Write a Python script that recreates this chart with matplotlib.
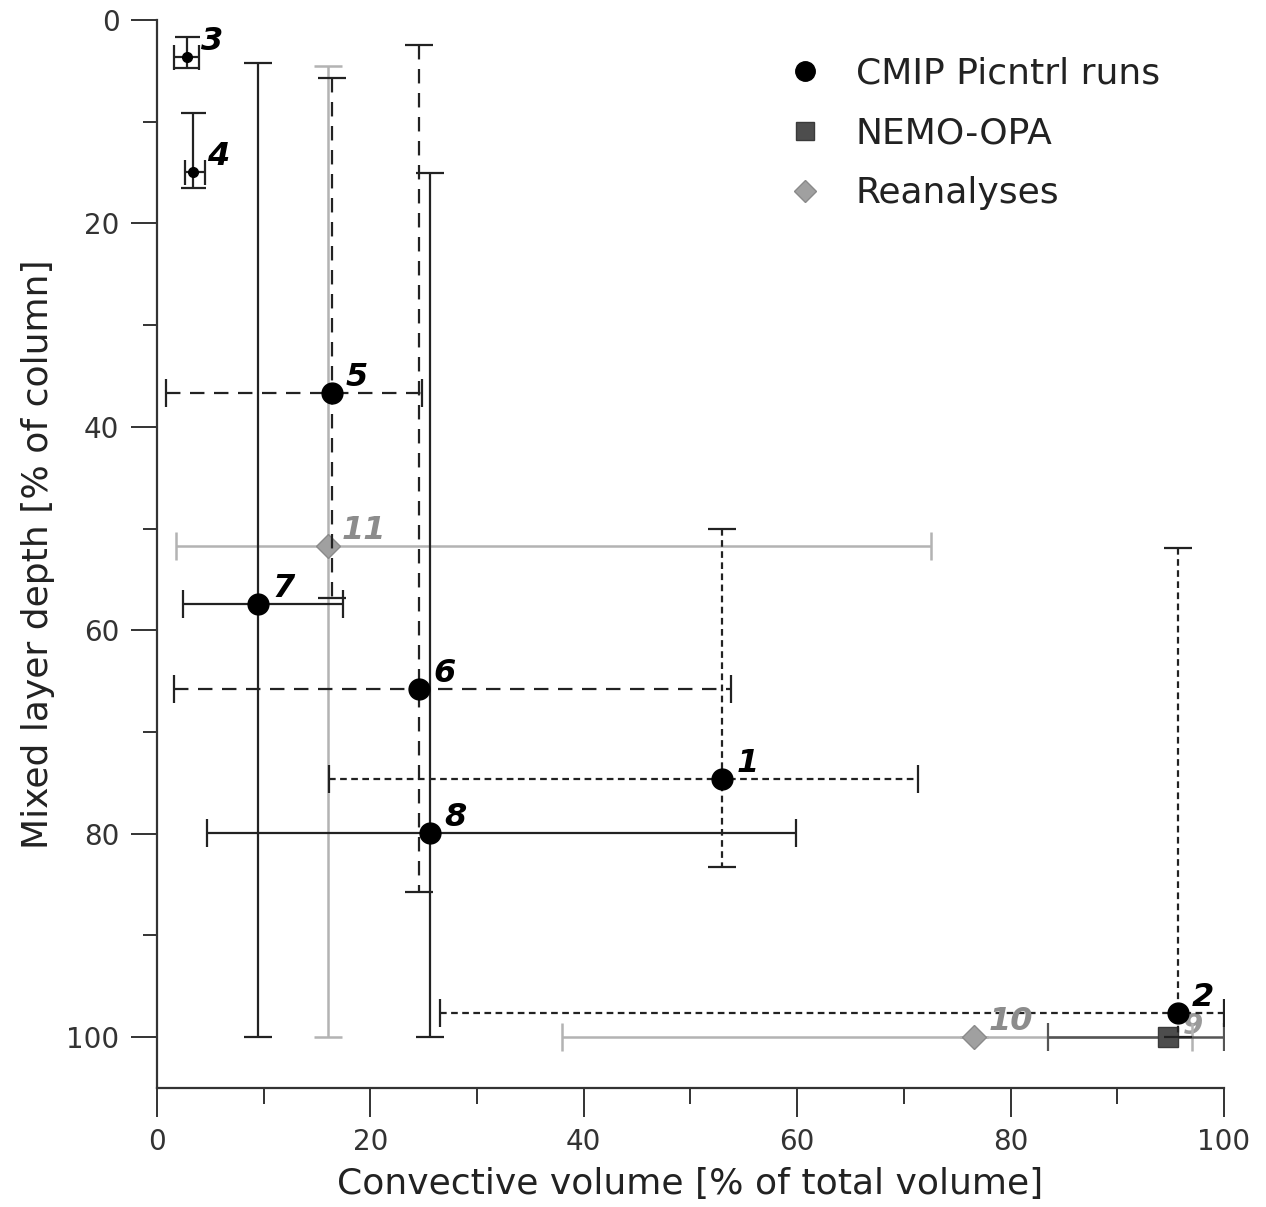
import matplotlib.pyplot as plt
from matplotlib.lines import Line2D

# CMIP piControl runs (labels 1-8): centre, x range, y range
cmip_id = ['1', '2', '3', '4', '5', '6', '7', '8']
cmip_x = [53.0, 95.7, 2.8, 3.4, 16.4, 24.6, 9.5, 25.6]
cmip_y = [74.6, 97.6, 3.6, 14.9, 36.7, 65.8, 57.4, 79.9]
cmip_xlo = [16.1, 26.5, 1.6, 2.6, 0.85, 1.6, 2.4, 4.7]
cmip_xhi = [71.3, 100.0, 3.9, 4.5, 24.8, 53.8, 17.4, 59.9]
cmip_ylo = [50.0, 51.9, 1.7, 9.1, 5.7, 2.5, 4.2, 15.0]
cmip_yhi = [83.3, 100.0, 4.7, 16.5, 56.8, 85.7, 100.0, 100.0]
cmip_style = ['fine', 'fine', 'solid', 'solid', 'long', 'long', 'solid', 'solid']

# NEMO-OPA (label 9)
nemo_id = ['9']
nemo_x = [94.8]
nemo_y = [100.0]
nemo_xlo = [83.5]
nemo_xhi = [100.0]

# Reanalyses (labels 10, 11)
rea_id = ['10', '11']
rea_x = [76.6, 16.0]
rea_y = [100.0, 51.7]
rea_xlo = [38.0, 1.8]
rea_xhi = [97.0, 72.5]
rea_ylo = [100.0, 4.5]
rea_yhi = [100.0, 100.0]

dash_map = {'solid': '-', 'fine': (0, (3, 2)), 'long': (0, (6.5, 4.3))}

fig = plt.figure(figsize=(12.66, 12.07), dpi=100)
ax = fig.add_axes([0.124, 0.0986, 0.8428, 0.8848])

lbl_font = dict(fontsize=23, fontweight='bold', fontstyle='italic')
lbl_off = (10, 5)

# CMIP points with error bars
for i in range(len(cmip_x)):
    small = cmip_id[i] in ('3', '4')
    eb = ax.errorbar(cmip_x[i], cmip_y[i],
                     xerr=[[cmip_x[i] - cmip_xlo[i]], [cmip_xhi[i] - cmip_x[i]]],
                     yerr=[[cmip_y[i] - cmip_ylo[i]], [cmip_yhi[i] - cmip_y[i]]],
                     fmt='o', color='black', ecolor='#222222', elinewidth=1.6,
                     capsize=10 if not small else 9, capthick=1.6,
                     markersize=7 if small else 15, zorder=3)
    for lc in eb[2]:
        lc.set_linestyle(dash_map[cmip_style[i]])
    ax.annotate(cmip_id[i], (cmip_x[i], cmip_y[i]), xytext=lbl_off,
                textcoords='offset points', ha='left', va='baseline',
                color='black', zorder=5, **lbl_font)

# Reanalyses
for i in range(len(rea_x)):
    ax.errorbar(rea_x[i], rea_y[i],
                xerr=[[rea_x[i] - rea_xlo[i]], [rea_xhi[i] - rea_x[i]]],
                yerr=[[rea_y[i] - rea_ylo[i]], [rea_yhi[i] - rea_y[i]]],
                fmt='D', color='#b3b3b3', mfc='#a0a0a0', mec='#8a8a8a',
                elinewidth=1.8, capsize=10, capthick=1.8,
                markersize=12, zorder=2)
    ax.annotate(rea_id[i], (rea_x[i], rea_y[i]), xytext=lbl_off,
                textcoords='offset points', ha='left', va='baseline',
                color='#8c8c8c', zorder=5, **lbl_font)

# NEMO-OPA (its label sits partly under point 2, as in the original)
for i in range(len(nemo_x)):
    ax.errorbar(nemo_x[i], nemo_y[i],
                xerr=[[nemo_x[i] - nemo_xlo[i]], [nemo_xhi[i] - nemo_x[i]]],
                fmt='s', color='#555555', mfc='#4d4d4d', mec='#3a3a3a',
                elinewidth=1.8, capsize=10, capthick=1.6,
                markersize=14, zorder=2.5)
    ax.annotate(nemo_id[i], (nemo_x[i], nemo_y[i]), xytext=(10, 2),
                textcoords='offset points', ha='left', va='baseline',
                color='#9a9a9a', zorder=1, fontsize=21, fontweight='bold',
                fontstyle='italic')

ax.set_xlim(0, 100)
ax.set_ylim(105, 0)
ax.set_xticks(range(0, 101, 20))
ax.set_xticks(range(10, 100, 20), minor=True)
ax.set_yticks(range(0, 101, 20))
ax.set_yticks(range(10, 100, 20), minor=True)

for s in ['top', 'right']:
    ax.spines[s].set_visible(False)
for s in ['left', 'bottom']:
    ax.spines[s].set_linewidth(1.6)
    ax.spines[s].set_color('#333333')

ax.tick_params(axis='x', which='major', direction='out', length=21, width=1.4,
               pad=8, labelsize=20, colors='#333333')
ax.tick_params(axis='x', which='minor', direction='out', length=11.5, width=1.4,
               colors='#333333')
ax.tick_params(axis='y', which='major', direction='out', length=19, width=1.4,
               pad=8, labelsize=20, colors='#333333')
ax.tick_params(axis='y', which='minor', direction='out', length=10, width=1.4,
               colors='#333333')

ax.set_xlabel('Convective volume [% of total volume]', fontsize=26, color='#222222', labelpad=8)
ax.set_ylabel('Mixed layer depth [% of column]', fontsize=26, color='#222222', labelpad=8)

handles = [
    Line2D([], [], marker='o', ls='none', color='black', markersize=14),
    Line2D([], [], marker='s', ls='none', mfc='#4d4d4d', mec='#3a3a3a', markersize=13),
    Line2D([], [], marker='D', ls='none', mfc='#a0a0a0', mec='#8a8a8a', markersize=11),
]
ax.legend(handles, ['CMIP Picntrl runs', 'NEMO-OPA', 'Reanalyses'],
          loc='upper left', bbox_to_anchor=(0.594, 0.966), frameon=False,
          fontsize=26, handlelength=0.8, handletextpad=1.0, labelspacing=0.72,
          borderpad=0, borderaxespad=0, labelcolor='#222222')

fig.savefig('out.png', dpi=100)
